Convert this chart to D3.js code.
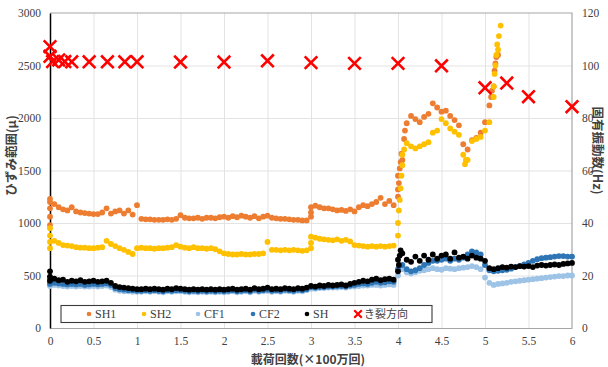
<!DOCTYPE html>
<html>
<head>
<meta charset="utf-8">
<script src="https://cdn.jsdelivr.net/npm/d3@7"></script>
<style>
  html, body { margin: 0; padding: 0; background: #fff; }
  svg { display: block; }
  .tick text { font-family: "Liberation Serif", "Times New Roman", serif; font-size: 11.5px; fill: #404040; }
</style>
</head>
<body>
<svg id="chart" width="608" height="367"></svg>
<script>
// Load cycles (×1,000,000) sampled every 0.05
const cycles = [
  0,0.05,0.1,0.15,0.2,0.25,0.3,0.35,0.4,0.45,
  0.5,0.55,0.6,0.65,0.7,0.75,0.8,0.85,0.9,0.95,
  1,1.05,1.1,1.15,1.2,1.25,1.3,1.35,1.4,1.45,
  1.5,1.55,1.6,1.65,1.7,1.75,1.8,1.85,1.9,1.95,
  2,2.05,2.1,2.15,2.2,2.25,2.3,2.35,2.4,2.45,
  2.5,2.55,2.6,2.65,2.7,2.75,2.8,2.85,2.9,2.95,
  3,3.05,3.1,3.15,3.2,3.25,3.3,3.35,3.4,3.45,
  3.5,3.55,3.6,3.65,3.7,3.75,3.8,3.85,3.9,3.95,
  4,4.05,4.1,4.15,4.2,4.25,4.3,4.35,4.4,4.45,
  4.5,4.55,4.6,4.65,4.7,4.75,4.8,4.85,4.9,4.95,
  5,5.05,5.1,5.15,5.2,5.25,5.3,5.35,5.4,5.45,
  5.5,5.55,5.6,5.65,5.7,5.75,5.8,5.85,5.9,5.95,
  6
];

// Strain range (μ) per gauge at the sampled cycles
const sh1 = [
  1230,1180,1150,1130,1120,1150,1110,1100,1095,1090,
  1085,1085,1100,1140,1090,1110,1120,1090,1120,1080,
  1170,1040,1035,1035,1030,1030,1030,1035,1030,1040,
  1075,1050,1045,1045,1050,1040,1050,1050,1045,1055,
  1060,1050,1065,1055,1070,1060,1050,1065,1045,1060,
  1070,1050,1045,1040,1040,1035,1030,1030,1025,1025,
  1150,1165,1150,1140,1140,1130,1120,1125,1115,1130,
  1110,1150,1170,1160,1180,1200,1240,1180,1210,1170,
  1450,1600,1950,2020,1990,1960,2010,2040,2140,2100,
  2060,2070,2020,1980,1930,1750,1700,1790,1810,1860,
  1960,2120,2300,2600
];
const sh2 = [
  950,830,810,790,785,780,770,765,765,760,
  760,765,770,830,800,780,760,745,725,705,
  760,765,760,760,755,760,760,765,770,790,
  775,765,760,770,760,760,755,760,750,730,
  710,705,700,700,705,700,700,705,705,710,
  820,745,745,740,745,740,745,740,735,740,
  870,860,850,845,840,835,845,830,840,825,
  790,785,780,775,780,775,780,775,780,785,
  1000,1650,1760,1730,1710,1730,1750,1770,1860,1880,
  1990,1950,1900,1870,1840,1650,1600,1780,1800,1820,
  1880,1960,2200,2650
];
const cf1 = [
  460,410,405,400,395,400,395,400,395,395,
  400,395,400,405,390,365,355,350,350,345,
  345,345,350,345,350,345,340,350,345,350,
  350,345,340,345,340,345,340,345,340,345,
  340,345,350,340,345,350,340,355,345,350,
  355,345,350,345,355,350,345,355,350,360,
  375,375,380,380,385,385,385,390,385,395,
  395,400,405,405,410,410,405,410,415,410,
  500,560,530,520,530,545,550,560,570,560,
  555,570,565,560,570,575,580,590,580,560,
  480,430,410,420,425,430,440,445,450,455,
  460,465,470,475,480,485,490,495,495,500,
  500
];
const cf2 = [
  480,430,425,420,415,420,415,420,410,415,
  420,415,420,425,410,380,370,365,360,360,
  355,355,360,355,360,355,350,360,355,360,
  360,355,350,355,350,355,350,355,350,355,
  350,355,360,350,355,360,350,365,355,360,
  365,355,360,355,365,360,355,365,360,370,
  390,385,390,390,395,395,400,400,395,405,
  410,420,425,420,430,440,430,435,445,440,
  560,600,560,540,550,570,600,620,640,640,
  650,660,640,660,650,670,700,730,720,700,
  600,550,540,545,550,555,565,580,590,605,
  620,640,655,665,670,675,680,685,685,680,
  680
];
const sh = [
  540,470,455,460,440,450,445,455,440,445,
  450,440,445,450,430,400,390,385,380,375,
  370,370,375,370,375,370,365,375,370,380,
  375,370,365,370,365,370,365,370,365,370,
  365,370,375,365,370,375,365,380,370,375,
  385,370,375,370,380,375,370,380,375,385,
  400,395,405,400,410,405,410,415,405,420,
  430,440,450,445,460,470,455,465,470,460,
  650,710,650,630,680,640,690,650,700,660,
  690,700,660,720,670,680,660,690,670,660,
  640,570,560,570,580,575,585,580,590,585,
  590,580,595,600,595,600,605,600,610,615,
  620
];

// Extra readings taken between samples, where the strain jumped: [cycles, μ]
const sh1Jumps = [[0,980],[0,1060],[0,1140],[0,1200],[3,1060],[3,1100],[4,1250],[4,1320],[4.01,1380],[4.02,1520],[4.03,1580],[4.04,1660],[4.07,1800],[4.08,1880],[5.07,2200],[5.08,2260],[5.11,2450],[5.12,2520],[5.13,2580]];
const sh2Jumps = [[0,760],[0,820],[0,880],[3,760],[3,810],[4,880],[4.01,1120],[4.02,1220],[4.03,1330],[4.04,1450],[4.05,1550],[4.07,1700],[4.77,1560],[4.78,1600],[5.1,2300],[5.11,2420],[5.12,2500],[5.13,2600],[5.14,2700],[5.16,2780],[5.18,2880]];
const cf1Jumps = [[0,400],[0,430]];
const cf2Jumps = [[0,420],[0,450]];
const shJumps = [[0,450],[0,490],[4,540],[4.01,600],[4.02,690],[4.03,740]];

// Natural frequency (Hz) at each crack-direction check
const crackCycles = [0,0,0.03,0.1,0.17,0.25,0.45,0.66,0.86,1,1.5,2,2.5,3,3.5,4,4.5,5,5.25,5.5,6];
const crackFreq = [107.2,103.5,101.5,102.1,101.5,101.4,101.4,101.4,101.4,101.4,101.3,101.3,101.8,101.1,100.8,100.8,99.9,91.5,93.3,88.1,84.3];

// Axis tick values
const xTicks = [0,0.5,1,1.5,2,2.5,3,3.5,4,4.5,5,5.5,6];
const yTicks = [0,500,1000,1500,2000,2500,3000];
const y2Ticks = [0,20,40,60,80,100,120];

const seriesNames = ["SH1","SH2","CF1","CF2","SH"];
const seriesColors = ["#ED7D31","#FFC000","#9DC3E6","#2E75B6","#000000"];
const crackName = "き裂方向";

const svg = d3.select("#chart");
const W = 608, H = 367;
const m = {left: 50, right: 36, top: 13, bottom: 39};
const pw = W - m.left - m.right, ph = H - m.top - m.bottom;

const x = d3.scaleLinear().domain([0, 6]).range([m.left, m.left + pw]);
const y = d3.scaleLinear().domain([0, 3000]).range([m.top + ph, m.top]);
const y2 = d3.scaleLinear().domain([0, 120]).range([m.top + ph, m.top]);

svg.append("rect").attr("width", W).attr("height", H).attr("fill", "#fff");

// Gridlines
svg.append("g")
  .attr("transform", `translate(0,${m.top + ph})`)
  .call(d3.axisBottom(x).tickValues(xTicks.slice(1, -1)).tickSize(-ph).tickFormat(""))
  .call(g => g.select(".domain").remove())
  .call(g => g.selectAll("line").attr("stroke", "#e3e3e3").attr("stroke-width", 1));
svg.append("g")
  .attr("transform", `translate(${m.left},0)`)
  .call(d3.axisLeft(y).tickValues(yTicks.slice(1, -1)).tickSize(-pw).tickFormat(""))
  .call(g => g.select(".domain").remove())
  .call(g => g.selectAll("line").attr("stroke", "#e3e3e3").attr("stroke-width", 1));

// Plot frame: top and right
svg.append("path")
  .attr("d", `M${x(0)},${y(3000)}H${x(6)}V${y(0)}`)
  .attr("fill", "none").attr("stroke", "#a6a6a6").attr("stroke-width", 1.2);

// Axes
const xAxis = svg.append("g")
  .attr("transform", `translate(0,${m.top + ph})`)
  .call(d3.axisBottom(x).tickValues(xTicks).tickSize(0).tickPadding(9).tickFormat(d3.format("~g")));
xAxis.select(".domain").attr("stroke", "#a6a6a6").attr("stroke-width", 1.2);

const yAxis = svg.append("g")
  .attr("transform", `translate(${m.left},0)`)
  .call(d3.axisLeft(y).tickValues(yTicks).tickSize(0).tickPadding(9).tickFormat(d3.format("d")));
yAxis.select(".domain").attr("stroke", "#000").attr("stroke-width", 1.5);

const y2Axis = svg.append("g")
  .attr("transform", `translate(${m.left + pw},0)`)
  .call(d3.axisRight(y2).tickValues(y2Ticks).tickSize(0).tickPadding(10).tickFormat(d3.format("d")));
y2Axis.select(".domain").remove();

// Scatter series
const seriesValues = [sh1, sh2, cf1, cf2, sh];
const seriesJumps = [sh1Jumps, sh2Jumps, cf1Jumps, cf2Jumps, shJumps];
const plot = svg.append("g");
seriesValues.forEach((vals, k) => {
  const pts = vals.map((v, i) => [cycles[i], v]).concat(seriesJumps[k]);
  plot.append("g")
    .attr("fill", seriesColors[k])
    .selectAll("circle")
    .data(pts)
    .join("circle")
    .attr("cx", d => x(d[0]))
    .attr("cy", d => y(d[1]))
    .attr("r", 2.9);
});

// Crack-direction markers on the frequency axis
const cross = s => `M${-s},${-s}L${s},${s}M${s},${-s}L${-s},${s}`;
svg.append("g")
  .selectAll("path")
  .data(crackCycles.map((c, i) => [c, crackFreq[i]]))
  .join("path")
  .attr("transform", d => `translate(${x(d[0])},${y2(d[1])})`)
  .attr("d", cross(6.3))
  .attr("fill", "none")
  .attr("stroke", "#FF0000")
  .attr("stroke-width", 2.6);

// Legend
const lg = svg.append("g").attr("transform", "translate(61,305.5)");
lg.append("rect").attr("width", 371).attr("height", 17)
  .attr("fill", "#fff").attr("stroke", "#3a3a3a").attr("stroke-width", 1.1);
const itemX = [28, 83, 137, 192, 246, 297];
seriesNames.forEach((name, k) => {
  lg.append("circle").attr("cx", itemX[k]).attr("cy", 8.5).attr("r", 2.3).attr("fill", seriesColors[k]);
  lg.append("text").attr("x", itemX[k] + 6).attr("y", 12.8)
    .attr("font-family", "'Liberation Serif', 'Times New Roman', serif")
    .attr("font-size", 12).attr("fill", "#404040").text(name);
});
lg.append("path").attr("transform", `translate(${itemX[5]},8.5)`).attr("d", cross(3.8))
  .attr("stroke", "#FF0000").attr("stroke-width", 2.2).attr("fill", "none");
lg.append("text").attr("x", itemX[5] + 6).attr("y", 12.6)
  .attr("font-family", "'Noto Sans CJK JP', sans-serif")
  .attr("font-size", 11).attr("fill", "#404040").text(crackName);

// Axis titles
const jp = "'Noto Sans CJK JP', 'Noto Sans', sans-serif";
svg.append("text")
  .attr("transform", `translate(16,${m.top + ph / 2 - 15}) rotate(-90)`)
  .attr("text-anchor", "middle")
  .attr("font-family", jp).attr("font-size", 12.5).attr("font-weight", "bold").attr("fill", "#404040")
  .text("ひずみ範囲(μ)");
svg.append("text")
  .attr("transform", `translate(593,${m.top + ph / 2 - 20}) rotate(90)`)
  .attr("text-anchor", "middle")
  .attr("font-family", jp).attr("font-size", 12.5).attr("font-weight", "bold").attr("fill", "#404040")
  .text("固有振動数(Hz)");
svg.append("text")
  .attr("x", 308).attr("y", 363.5)
  .attr("text-anchor", "middle")
  .attr("font-family", jp).attr("font-size", 12).attr("font-weight", "bold").attr("fill", "#404040")
  .text("載荷回数(×100万回)");
</script>
</body>
</html>
